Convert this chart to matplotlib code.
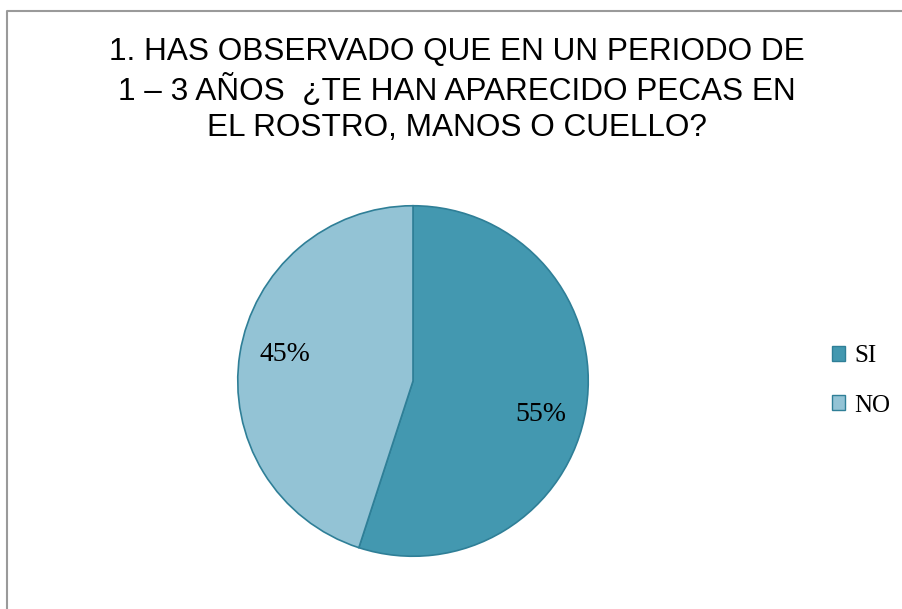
import matplotlib.pyplot as plt
from matplotlib.lines import Line2D
from matplotlib.patches import Patch

labels = ['SI', 'NO']
values = [55, 45]
colors = ['#4398B0', '#93C3D5']
edge = '#2F7F97'

title = ('1. HAS OBSERVADO QUE EN UN PERIODO DE\n'
         '1 – 3 AÑOS  ¿TE HAN APARECIDO PECAS EN\n'
         'EL ROSTRO, MANOS O CUELLO?')

W, H = 902, 609
fig = plt.figure(figsize=(W / 100, H / 100), dpi=100)

# chart frame: only top and left edges are visible in the crop
fig.lines.append(Line2D([7 / W, 7 / W, 1.0], [0.0, 1 - 11 / H, 1 - 11 / H],
                        transform=fig.transFigure, color='#9a9a9a', linewidth=1.5))

fig.text(457 / W, 1 - 90 / H, title, ha='center', va='center',
         fontsize=22.7, family='Liberation Sans', linespacing=1.27)

cx, cy, r = 413, 381, 177
ax = fig.add_axes([(cx - r) / W, (H - cy - r) / H, 2 * r / W, 2 * r / H])
wedges, texts, autotexts = ax.pie(values, colors=colors, startangle=90,
                                  counterclock=False, autopct='%d%%',
                                  wedgeprops=dict(edgecolor=edge, linewidth=1.2),
                                  textprops=dict(fontsize=20, family='Liberation Serif'))
autotexts[0].set_position((0.73, -0.19))
autotexts[1].set_position((-0.73, 0.15))
ax.set_xlim(-1.01, 1.01)
ax.set_ylim(-1.01, 1.01)

handles = [Patch(facecolor=c, edgecolor=edge, linewidth=1) for c in colors]
fig.legend(handles, labels, loc='center left', bbox_to_anchor=(814 / W, 1 - 381 / H),
           frameon=False, prop=dict(family='Liberation Serif', size=18),
           handlelength=0.55, handleheight=0.55, handletextpad=0.35, labelspacing=1.1,
           borderpad=0.2)

fig.savefig('out.png', dpi=100)
